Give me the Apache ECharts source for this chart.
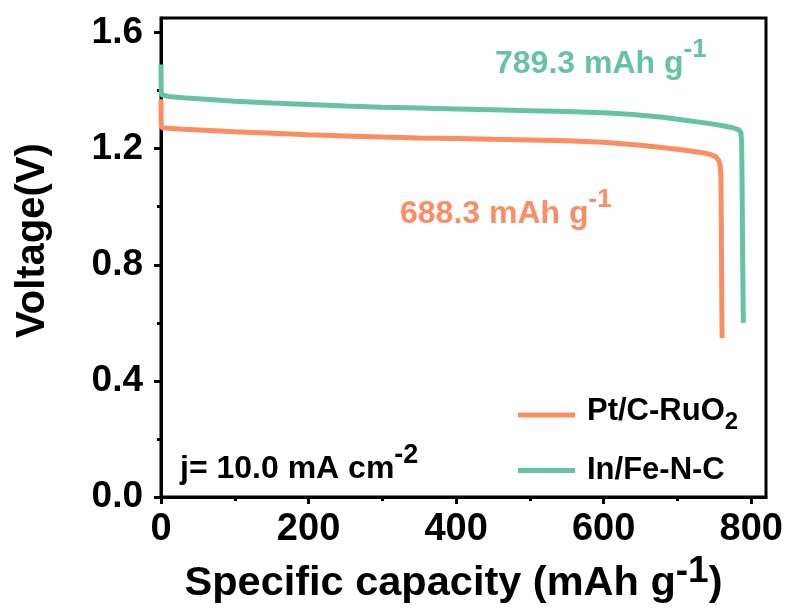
<!DOCTYPE html>
<html>
<head>
<meta charset="utf-8">
<script src="https://cdn.jsdelivr.net/npm/echarts@6/dist/echarts.min.js"></script>
<style>html,body{margin:0;padding:0;background:#fff}#c{width:791px;height:610px}</style>
</head>
<body>
<div id="c"></div>
<script>
// ---- data ----
const capacityInFe = [0, 0.3, 1, 10, 30, 60, 100, 150, 200, 250, 300, 350, 400, 450, 500, 550, 600, 640, 680, 710, 740, 760, 775, 783, 786, 787, 787.5, 788.5, 789.3];
const voltageInFe  = [1.49, 1.40, 1.385, 1.38, 1.375, 1.37, 1.363, 1.357, 1.352, 1.347, 1.343, 1.340, 1.337, 1.334, 1.331, 1.328, 1.324, 1.318, 1.308, 1.298, 1.288, 1.280, 1.272, 1.265, 1.255, 1.22, 1.10, 0.80, 0.60];
const capacityPtC  = [0, 0.3, 1, 10, 30, 60, 100, 150, 200, 250, 300, 350, 400, 450, 500, 550, 600, 650, 700, 730, 745, 752, 756, 758, 759, 759.5, 760, 760.5];
const voltagePtC   = [1.37, 1.28, 1.272, 1.27, 1.267, 1.263, 1.258, 1.253, 1.248, 1.244, 1.240, 1.237, 1.235, 1.232, 1.230, 1.227, 1.222, 1.212, 1.198, 1.188, 1.180, 1.172, 1.160, 1.140, 1.10, 0.90, 0.70, 0.548];
const xTicks = [0, 200, 400, 600, 800];
const xMinorTicks = [100, 300, 500, 700];
const yTicks = [0, 0.4, 0.8, 1.2, 1.6];
const yMinorTicks = [0.2, 0.6, 1.0, 1.4];
const seriesNames = ['Pt/C-RuO2', 'In/Fe-N-C'];
const colors = ['#FC8D62', '#66C2A5'];

const FONT = 'Liberation Sans, Arial, sans-serif';
const zip = (xs, ys) => xs.map((x, i) => [x, ys[i]]);

function supRich(color, size, supSize, raise, key) {
  const k = key || 'color';
  const m = {fontSize: size, fontWeight: 'bold', fontFamily: FONT, verticalAlign: 'bottom', padding: [raise, 0, 0, 0]};
  const s = {fontSize: supSize, fontWeight: 'bold', fontFamily: FONT, verticalAlign: 'top'};
  m[k] = color; s[k] = color;
  return {m: m, s: s};
}

const chart = echarts.init(document.getElementById('c'), null, {renderer: 'canvas'});
const axisCommon = {
  axisLine: {show: true, lineStyle: {color: '#000', width: 3}},
  splitLine: {show: false}
};
chart.setOption({
  animation: false,
  backgroundColor: '#fff',
  grid: {left: 161, right: 25, top: 18, bottom: 106, show: true, borderColor: '#000', borderWidth: 3},
  xAxis: [
    Object.assign({}, axisCommon, {
      type: 'value', min: 0, max: 820, interval: 200,
      axisTick: {show: true, length: 7, lineStyle: {width: 3, color: '#000'}, customValues: xTicks},
      axisLabel: {show: true, customValues: xTicks, margin: 13, fontSize: 38, fontWeight: 'bold', fontFamily: FONT, color: '#000'},
      name: '{m|Specific capacity (mAh g}{s|-1}{m|)}',
      nameLocation: 'middle', nameGap: 42,
      nameTextStyle: {rich: supRich('#000', 41.5, 37, 10), padding: [0, 20, 0, 0]}
    }),
    {
      type: 'value', min: 0, max: 820, interval: 100, position: 'bottom', gridIndex: 0,
      axisLine: {show: false}, splitLine: {show: false}, axisLabel: {show: false},
      axisTick: {show: true, length: 4, lineStyle: {width: 3, color: '#000'}, customValues: xMinorTicks}
    }
  ],
  yAxis: [
    Object.assign({}, axisCommon, {
      type: 'value', min: 0, max: 1.65, interval: 0.4,
      axisTick: {show: true, length: 7, lineStyle: {width: 3, color: '#000'}, customValues: yTicks},
      axisLabel: {show: true, customValues: yTicks, margin: 18, fontSize: 37, fontWeight: 'bold', fontFamily: FONT, color: '#000',
        formatter: v => v.toFixed(1)},
      name: 'Voltage(V)', nameLocation: 'middle', nameGap: 108,
      nameTextStyle: {fontSize: 40, fontWeight: 'bold', fontFamily: FONT, color: '#000', padding: [0, 0, 0, 34]}
    }),
    {
      type: 'value', min: 0, max: 1.65, interval: 0.2, position: 'left', gridIndex: 0,
      axisLine: {show: false}, splitLine: {show: false}, axisLabel: {show: false},
      axisTick: {show: true, length: 4, lineStyle: {width: 3, color: '#000'}, customValues: yMinorTicks}
    }
  ],
  legend: {
    orient: 'vertical', left: 518, top: 396, itemGap: 21, padding: 0,
    itemWidth: 57, itemHeight: 5, icon: 'rect',
    data: seriesNames,
    formatter: name => name === 'Pt/C-RuO2' ? '{m|Pt/C-RuO}{b|2}' : '{m|' + name + '}',
    textStyle: {
      rich: {
        m: {fontSize: 31, fontWeight: 'bold', fontFamily: FONT, color: '#000', verticalAlign: 'top', padding: [0, 0, 0, 7]},
        b: {fontSize: 24, fontWeight: 'bold', fontFamily: FONT, color: '#000', verticalAlign: 'top', padding: [14, 0, 0, 0]}
      }
    }
  },
  series: [
    {name: seriesNames[0], type: 'line', data: zip(capacityPtC, voltagePtC), showSymbol: false, symbol: 'none',
      lineStyle: {color: colors[0], width: 5}, itemStyle: {color: colors[0]}, xAxisIndex: 0, yAxisIndex: 0},
    {name: seriesNames[1], type: 'line', data: zip(capacityInFe, voltageInFe), showSymbol: false, symbol: 'none',
      lineStyle: {color: colors[1], width: 5}, itemStyle: {color: colors[1]}, xAxisIndex: 0, yAxisIndex: 0}
  ],
  graphic: [
    {type: 'text', left: 495, top: 37, style: {text: '{m|789.3 mAh g}{s|-1}', fill: colors[1], rich: supRich(colors[1], 32, 26, 11, 'fill')}},
    {type: 'text', left: 400, top: 187, style: {text: '{m|688.3 mAh g}{s|-1}', fill: colors[0], rich: supRich(colors[0], 32, 26, 11, 'fill')}},
    {type: 'text', left: 180, top: 442, style: {text: '{m|j= 10.0 mA cm}{s|-2}', fill: '#000', rich: supRich('#000', 32, 27, 11, 'fill')}}
  ]
});
</script>
</body>
</html>
